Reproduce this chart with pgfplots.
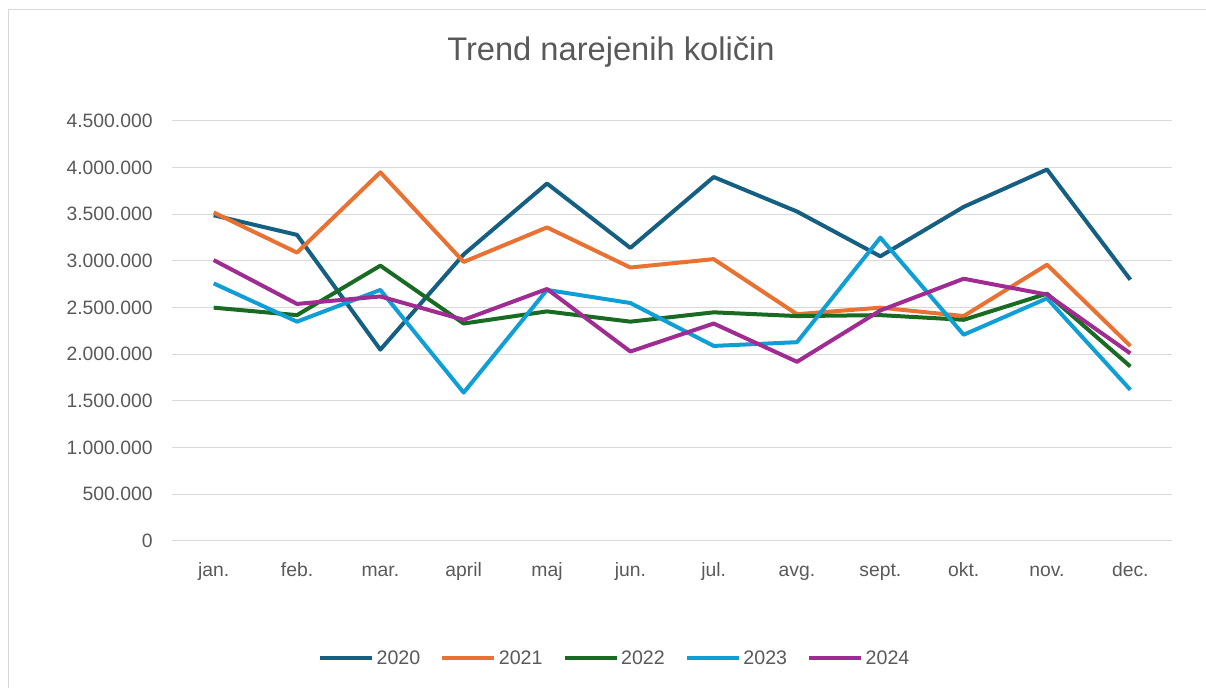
\documentclass[border=0pt]{standalone}
\usepackage{fontspec}
\setmainfont{Liberation Sans}
\usepackage{pgfplots}
\pgfplotsset{compat=1.18}
\definecolor{c20}{HTML}{156082}
\definecolor{c21}{HTML}{E97132}
\definecolor{c22}{HTML}{196B24}
\definecolor{c23}{HTML}{0F9ED5}
\definecolor{c24}{HTML}{A02B93}
\definecolor{txt}{HTML}{595959}
\definecolor{grd}{HTML}{D9D9D9}
\begin{document}
\begin{tikzpicture}[x=0.75pt,y=0.75pt]
\path[use as bounding box] (0,0) rectangle (1206,688);
\draw[grd,line width=0.75pt] (8,0) -- (8,678) -- (1206,678);
\node[text=txt,font=\fontsize{24.5pt}{28pt}\selectfont] at (611,636) {Trend narejenih količin};
\begin{axis}[
  at={(129pt,110.25pt)}, anchor=south west,
  scale only axis, width=750pt, height=315pt,
  xmin=-0.5, xmax=11.5, ymin=0, ymax=4500000,
  axis line style={draw=none},
  ymajorgrids, grid style={grd,line width=0.75pt},
  ytick={0,500000,...,4500000},
  xtick={0,...,11},
  xticklabels={jan.,feb.,mar.,april,maj,jun.,jul.,avg.,sept.,okt.,nov.,dec.},
  scaled y ticks=false,
  ticklabel style={text=txt,font=\fontsize{14.5pt}{17pt}\selectfont},
  yticklabel style={/pgf/number format/.cd,fixed,precision=0,1000 sep={.},assume math mode=true,/tikz/.cd,anchor=east,xshift=-11pt},
  xticklabel style={anchor=base,yshift=-27pt},
  major tick length=0pt,
  tick style={draw=none},
  legend style={at={(0.443,-0.279)},anchor=center,draw=none,legend columns=5,
    font=\fontsize{14.7pt}{17pt}\selectfont,text=txt,
    /tikz/every even column/.append style={column sep=13pt},
    /tikz/every odd column/.append style={column sep=0pt}},
  legend image code/.code={\draw[#1,line width=3pt] (0pt,0pt) -- (39pt,0pt);},
  every axis plot/.append style={line width=3pt,line join=round,mark=none},
]
\addplot[c20] coordinates {(0,3490000)(1,3280000)(2,2050000)(3,3070000)(4,3830000)(5,3140000)(6,3900000)(7,3530000)(8,3050000)(9,3580000)(10,3980000)(11,2800000)};
\addplot[c21] coordinates {(0,3520000)(1,3090000)(2,3950000)(3,2990000)(4,3360000)(5,2930000)(6,3020000)(7,2430000)(8,2500000)(9,2410000)(10,2960000)(11,2090000)};
\addplot[c22] coordinates {(0,2500000)(1,2420000)(2,2950000)(3,2330000)(4,2460000)(5,2350000)(6,2450000)(7,2410000)(8,2420000)(9,2370000)(10,2650000)(11,1870000)};
\addplot[c23] coordinates {(0,2760000)(1,2350000)(2,2690000)(3,1590000)(4,2690000)(5,2550000)(6,2090000)(7,2130000)(8,3250000)(9,2210000)(10,2600000)(11,1620000)};
\addplot[c24] coordinates {(0,3010000)(1,2540000)(2,2620000)(3,2370000)(4,2700000)(5,2030000)(6,2330000)(7,1920000)(8,2470000)(9,2810000)(10,2640000)(11,2010000)};
\legend{2020,2021,2022,2023,2024}
\end{axis}
\end{tikzpicture}
\end{document}
